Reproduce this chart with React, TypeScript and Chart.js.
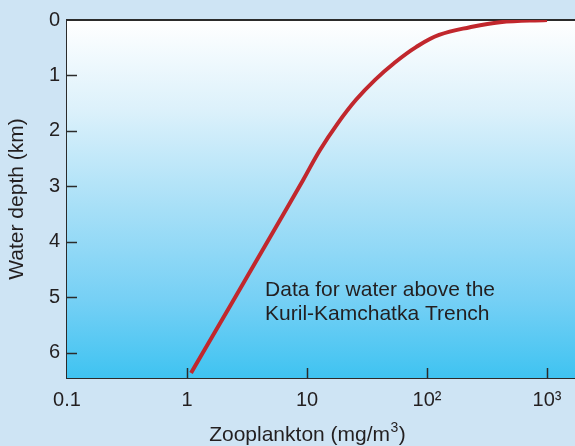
import React, { useEffect, useRef } from "react";
import { Chart, registerables } from "chart.js";

Chart.register(...registerables);

// Data
const zooplankton = [1.08, 4.92, 9.26, 12.8, 18.1, 25.6, 36.9, 53.1, 81.0, 126, 228, 406, 1000];
const depthKm = [6.37, 3.92, 2.89, 2.35, 1.86, 1.44, 1.08, 0.78, 0.49, 0.27, 0.13, 0.04, 0];
const xTickValues = [0.1, 1, 10, 100, 1000];
const xTickLabels = ["0.1", "1", "10", "10²", "10³"];
const yTickValues = [0, 1, 2, 3, 4, 5, 6];
const noteLines = ["Data for water above the", "Kuril-Kamchatka Trench"];
const xTitleMain = "Zooplankton (mg/m";
const xTitleSup = "3";
const xTitleEnd = ")";

const FONT = "'Liberation Sans', Arial, Helvetica, sans-serif";
const TEXT = "#231f20";
const AXIS = "#2b2b2b";

const decorPlugin = {
  id: "decor",
  beforeDatasetsDraw(chart: any) {
    const { ctx, chartArea } = chart;
    const { left, right, top, bottom } = chartArea;
    const g = ctx.createLinearGradient(0, top, 0, bottom);
    g.addColorStop(0, "#ffffff");
    g.addColorStop(0.25, "#dcf1fb");
    g.addColorStop(0.53, "#a6dff7");
    g.addColorStop(0.78, "#76d0f5");
    g.addColorStop(1, "#3fc3f1");
    ctx.save();
    ctx.fillStyle = g;
    ctx.fillRect(left, top, right - left, bottom - top);
    ctx.strokeStyle = AXIS;
    ctx.lineWidth = 1.5;
    const xs = chart.scales.x;
    const ys = chart.scales.y;
    xTickValues.forEach((v) => {
      if (v === xTickValues[0]) return;
      const px = Math.round(xs.getPixelForValue(v)) + 0.5;
      ctx.beginPath();
      ctx.moveTo(px, bottom);
      ctx.lineTo(px, bottom - 10);
      ctx.stroke();
    });
    yTickValues.forEach((v) => {
      if (v === 0) return;
      const py = Math.round(ys.getPixelForValue(v)) + 0.5;
      ctx.beginPath();
      ctx.moveTo(left, py);
      ctx.lineTo(left + 10, py);
      ctx.stroke();
    });
    ctx.lineWidth = 2;
    ctx.beginPath();
    ctx.moveTo(left, top);
    ctx.lineTo(right, top);
    ctx.stroke();
    // note
    ctx.fillStyle = TEXT;
    ctx.font = "21px " + FONT;
    ctx.textAlign = "left";
    ctx.textBaseline = "alphabetic";
    const nx = xs.getPixelForValue(4.47);
    const ny = ys.getPixelForValue(4.98);
    noteLines.forEach((t, i) => ctx.fillText(t, nx, ny + i * 24));
    ctx.restore();
  },
  afterDraw(chart: any) {
    const { ctx } = chart;
    const xs = chart.scales.x;
    ctx.save();
    ctx.fillStyle = TEXT;
    ctx.textAlign = "left";
    ctx.textBaseline = "alphabetic";
    const mainFont = "21px " + FONT;
    const supFont = "14px " + FONT;
    ctx.font = mainFont;
    const w1 = ctx.measureText(xTitleMain).width;
    const w3 = ctx.measureText(xTitleEnd).width;
    ctx.font = supFont;
    const w2 = ctx.measureText(xTitleSup).width;
    const total = w1 + w2 + w3;
    const cx = xs.getPixelForValue(10);
    const baseY = xs.bottom - 5;
    const x0 = cx - total / 2;
    ctx.font = mainFont;
    ctx.fillText(xTitleMain, x0, baseY);
    ctx.font = supFont;
    ctx.fillText(xTitleSup, x0 + w1 + 0.5, baseY - 9);
    ctx.font = mainFont;
    ctx.fillText(xTitleEnd, x0 + w1 + w2 + 1, baseY);
    ctx.restore();
  },
};

export default function App() {
  const ref = useRef<HTMLCanvasElement>(null);
  useEffect(() => {
    if (!ref.current) return;
    const chart = new Chart(ref.current, {
      type: "scatter",
      data: {
        datasets: [
          {
            data: zooplankton.map((x, i) => ({ x, y: depthKm[i] })),
            showLine: true,
            borderColor: "#c1272d",
            borderWidth: 4,
            pointRadius: 0,
            tension: 0.4,
            borderCapStyle: "butt",
          } as any,
        ],
      },
      options: {
        animation: false,
        responsive: false,
        layout: { padding: { top: 20, right: 0, left: 0, bottom: 0 } },
        plugins: { legend: { display: false }, tooltip: { enabled: false } },
        scales: {
          x: {
            type: "logarithmic",
            min: 0.1,
            max: 1711,
            afterBuildTicks: (s: any) => {
              s.ticks = xTickValues.map((v) => ({ value: v }));
            },
            afterFit: (s: any) => {
              s.height = 68;
            },
            ticks: {
              autoSkip: false,
              maxRotation: 0,
              padding: 10,
              color: TEXT,
              font: { family: FONT, size: 20 },
              callback: (v: any) => {
                const i = xTickValues.indexOf(Number(v));
                return i >= 0 ? xTickLabels[i] : "";
              },
            },
            grid: { display: false, drawTicks: false },
            border: { display: true, color: AXIS, width: 2 },
          },
          y: {
            type: "linear",
            reverse: true,
            min: 0,
            max: 6.46,
            afterBuildTicks: (s: any) => {
              s.ticks = yTickValues.map((v) => ({ value: v }));
            },
            afterFit: (s: any) => {
              s.width = 67;
            },
            ticks: {
              autoSkip: false,
              padding: 7,
              color: TEXT,
              font: { family: FONT, size: 20 },
            },
            grid: { display: false, drawTicks: false },
            border: { display: true, color: AXIS, width: 2 },
            title: {
              display: true,
              text: "Water depth (km)",
              color: TEXT,
              font: { family: FONT, size: 21 },
              padding: { top: 5, bottom: 0 },
            },
          },
        },
      },
      plugins: [decorPlugin],
    });
    return () => chart.destroy();
  }, []);
  return (
    <div
      style={{
        position: "fixed",
        left: 0,
        top: 0,
        width: 575,
        height: 446,
        background: "#cee4f4",
      }}
    >
      <canvas ref={ref} width={575} height={446} />
    </div>
  );
}
